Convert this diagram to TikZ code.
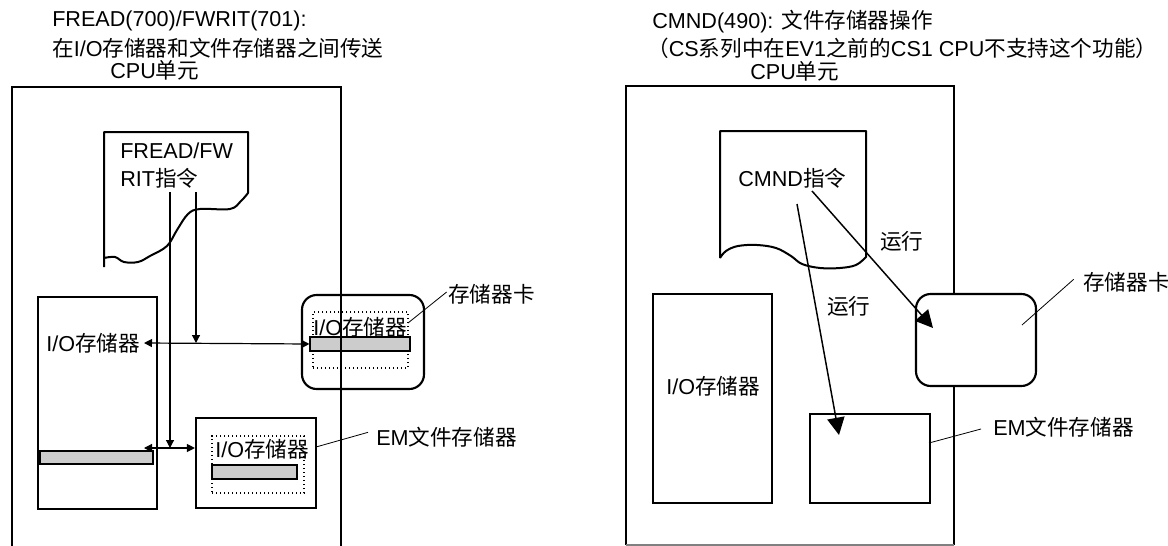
\documentclass[tikz,border=0pt]{standalone}
\usepackage{fontspec}
\setmainfont{Liberation Sans}
\newfontfamily\cjk{Noto Sans CJK SC}
\usetikzlibrary{arrows.meta,fit}

\begin{document}
\begin{tikzpicture}[x=0.75pt, y=-0.75pt, every node/.style={font=\fontsize{16.2pt}{19pt}\selectfont, inner sep=0pt}, txt/.style={anchor=west}, frame/.style={line width=1.7pt}, doc/.style={line width=1.5pt, line join=round}, membox/.style={draw, line width=1.6pt, inner sep=0pt}, card/.style={membox, rounded corners=11pt}, inbox/.style={draw, dotted, line width=1pt, inner sep=0pt}, bar/.style={draw, fill=gray!40, line width=0.8pt, inner sep=0pt}, arr/.style={-{Triangle[length=6pt,width=6pt]}, line width=0.9pt}, dbl/.style={{Triangle[length=6pt,width=6pt]}-{Triangle[length=6pt,width=6pt]}, line width=0.9pt}, bigarr/.style={-{Triangle[length=13pt,width=13pt]}, line width=1.1pt}, lead/.style={line width=0.6pt}]
\useasboundingbox (0,0) rectangle (1168,546);
% FREAD/FWRIT side
\node[txt] (titleL) at (52,21) {FREAD(700)/FWRIT(701):};
\node[txt] (subL) at (52,48) {{\cjk 在}I/O{\cjk 存储器和文件存储器之间传送}};
\node[txt] (cpuLlbl) at (110,70) {CPU{\cjk 单元}};
\draw[doc] (104,267) -- (104,132) -- (248,132) -- (248,193) -- plot[smooth, tension=0.6] coordinates {(248,193) (241,201) (230,209) (200,209) (188,214) (177,230) (167,246) (150,256) (138,262) (124,262) (115,257) (104,258)};
\node[txt] (docL1) at (120,151) {FREAD/FW};
\node[txt] (docL2) at (120,178) {RIT{\cjk 指令}};
\node[membox, fit={(38,297) (157,509)}] (ioL) {};
\node[txt] (ioLlbl) at (46,343) {I/O{\cjk 存储器}};
\node[bar, fit={(40,451) (153,464)}] (ioLbar) {};
\node[card, fit={(302,295) (424,389)}] (cardL) {};
\node[inbox, fit={(313,312) (408,368)}] (cardLin) {};
\node[txt] (cardLlbl) at (313,327) {I/O{\cjk 存储器}};
\node[bar, fit={(310,337) (410,351)}] (cardLbar) {};
\node[membox, fit={(196,418) (316,508)}] (emL) {};
\node[inbox, fit={(212,436) (304,493)}] (emLin) {};
\node[txt] (emLlbl) at (215,449) {I/O{\cjk 存储器}};
\node[bar, fit={(212,465) (297,479)}] (emLbar) {};
\coordinate (srcA) at (170,192); \coordinate (srcB) at (196,192);
\coordinate (hubA) at (170,448); \coordinate (hubB) at (196,343);
\coordinate (ioLtipA) at (144,343); \coordinate (ioLtipB) at (144,448);
\draw[arr] (srcB) -- (hubB);
\draw[arr] (srcA) -- (hubA);
\draw[dbl] (ioLtipA) -- (cardLbar.west);
\draw[dbl] (ioLtipB) -- (ioLtipB -| emL.west);
\draw[frame] (12,546) -- (12,87) -- (341,87) -- (341,546);
\node[txt] (cardLtag) at (448,294) {{\cjk 存储器卡}};
\coordinate (cardLpt) at (408,323);
\draw[lead] ([xshift=-1pt,yshift=1.5pt]cardLtag.west) -- (cardLpt);
\node[txt] (emLtag) at (376,437) {EM{\cjk 文件存储器}};
\coordinate (emLpt) at (316,447);
\draw[lead] ([xshift=-6pt,yshift=3.5pt]emLtag.west) -- (emLpt);
% CMND side
\node[txt] (titleR) at (652,22) {CMND(490): {\cjk 文件存储器操作}};
\node[txt] (subR) at (647,48) {{\cjk （}CS{\cjk 系列中在}EV1{\cjk 之前的}CS1 CPU{\cjk 不支持这个功能）}};
\node[txt] (cpuRlbl) at (750,71) {CPU{\cjk 单元}};
\draw[frame] (626,545) -- (626,86) -- (954,86) -- (954,545);
\draw[gray, line width=0.8pt] (626,545) -- (954,545);
\draw[doc] (720,258) -- (720,131) -- (866,131) -- (866,257) -- plot[smooth, tension=0.6] coordinates {(866,257) (856,265) (840,268) (820,268) (802,264) (791,256) (776,248) (757,245) (738,246) (726,251) (720,258)};
\node[txt] (docR) at (738,178) {CMND{\cjk 指令}};
\node[membox, fit={(653,294) (772,503)}] (ioR) {};
\node[txt] (ioRlbl) at (666,386) {I/O{\cjk 存储器}};
\node[membox, fit={(810,414) (930,503)}] (emR) {};
\node[card, fill=white, fit={(916,294) (1036,386)}] (cardR) {};
\coordinate (runA) at (812,191); \coordinate (runB) at (797,204);
\coordinate (cardRtip) at (933,328); \coordinate (emRtip) at (839,435);
\draw[bigarr] (runA) -- (cardRtip);
\draw[bigarr] (runB) -- (emRtip);
\node[txt] (runAlbl) at (880,241) {{\cjk 运行}};
\node[txt] (runBlbl) at (827,306) {{\cjk 运行}};
\node[txt] (cardRtag) at (1083,282) {{\cjk 存储器卡}};
\coordinate (cardRpt) at (1022,325);
\draw[lead] ([xshift=-7pt,yshift=2pt]cardRtag.west) -- (cardRpt);
\node[txt] (emRtag) at (993,427) {EM{\cjk 文件存储器}};
\coordinate (emRpt) at (929,443);
\draw[lead] ([xshift=-9pt,yshift=-1.5pt]emRtag.west) -- (emRpt);
\end{tikzpicture}
\end{document}
